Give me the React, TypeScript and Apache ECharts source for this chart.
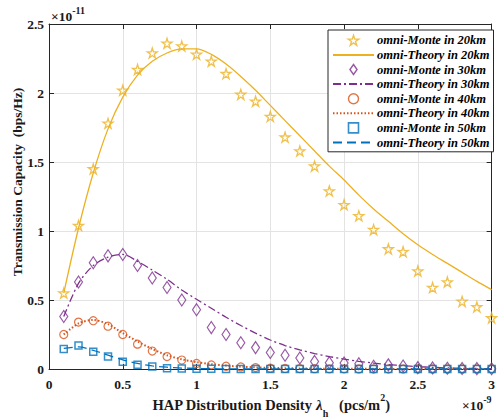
import React, { useEffect, useRef } from 'react';
import * as echarts from 'echarts';

// x positions (×10^-9 pcs/m^2)
const xs = [0.1, 0.2, 0.3, 0.4, 0.5, 0.6, 0.7, 0.8, 0.9, 1.0, 1.1, 1.2, 1.3, 1.4, 1.5, 1.6, 1.7, 1.8, 1.9, 2.0, 2.1, 2.2, 2.3, 2.4, 2.5, 2.6, 2.7, 2.8, 2.9, 3.0];

// values in units of 1e-11 bps/Hz
const monte20 = [0.55, 1.04, 1.45, 1.78, 2.02, 2.17, 2.29, 2.36, 2.34, 2.28, 2.23, 2.14, 1.99, 1.94, 1.83, 1.68, 1.58, 1.47, 1.29, 1.19, 1.11, 1.01, 0.87, 0.85, 0.71, 0.59, 0.63, 0.49, 0.45, 0.37];
const theory20 = [0.55, 1.02, 1.42, 1.74, 1.97, 2.13, 2.23, 2.29, 2.32, 2.32, 2.28, 2.21, 2.12, 2.02, 1.91, 1.8, 1.69, 1.58, 1.47, 1.37, 1.26, 1.16, 1.07, 0.98, 0.9, 0.83, 0.765, 0.7, 0.635, 0.575];
const monte30 = [0.38, 0.63, 0.77, 0.82, 0.83, 0.75, 0.66, 0.59, 0.5, 0.43, 0.3, 0.25, 0.19, 0.155, 0.12, 0.1, 0.08, 0.055, 0.046, 0.043, 0.038, 0.02, 0.03, 0.022, 0.01, 0.008, 0.006, 0.004, 0.003, 0.002];
const theory30 = [0.38, 0.62, 0.75, 0.81, 0.83, 0.78, 0.717, 0.65, 0.572, 0.505, 0.44, 0.375, 0.315, 0.26, 0.21, 0.17, 0.138, 0.112, 0.09, 0.072, 0.056, 0.043, 0.032, 0.024, 0.017, 0.012, 0.008, 0.006, 0.004, 0.003];
const monte40 = [0.25, 0.34, 0.35, 0.31, 0.25, 0.18, 0.13, 0.09, 0.065, 0.04, 0.03, 0.02, 0.015, 0.01, 0.006, 0.004, 0.003, 0.002, 0.001, 0.001, 0, 0, 0, 0, 0, 0, 0, 0, 0, 0];
const theory40 = [0.25, 0.33, 0.355, 0.325, 0.26, 0.2, 0.145, 0.1, 0.07, 0.05, 0.035, 0.025, 0.017, 0.012, 0.008, 0.006, 0.004, 0.003, 0.002, 0.0015, 0.001, 0.001, 0, 0, 0, 0, 0, 0, 0, 0];
const monte50 = [0.145, 0.17, 0.125, 0.09, 0.053, 0.03, 0.018, 0.006, 0.003, 0.002, 0.001, 0, 0, 0, 0, 0, 0, 0, 0, 0, 0, 0, 0, 0, 0, 0, 0, 0, 0, 0];
const theory50 = [0.15, 0.16, 0.135, 0.1, 0.066, 0.04, 0.023, 0.013, 0.007, 0.004, 0.002, 0.001, 0, 0, 0, 0, 0, 0, 0, 0, 0, 0, 0, 0, 0, 0, 0, 0, 0, 0];

const seriesNames = [
  'omni-Monte in 20km', 'omni-Theory in 20km',
  'omni-Monte in 30km', 'omni-Theory in 30km',
  'omni-Monte in 40km', 'omni-Theory in 40km',
  'omni-Monte in 50km', 'omni-Theory in 50km',
];

const C20 = '#EDB120';
const C30 = '#7E2F8E';
const C40 = '#D95319';
const C50 = '#0072BD';
const FONT = "'Liberation Serif', 'Times New Roman', serif";
const AX = '#262626';

const STAR = 'path://M0,-10L2.235,-3.074L9.51,-3.09L3.614,1.174L5.88,8.09L0,3.8L-5.88,8.09L-3.614,1.174L-9.51,-3.09L-2.235,-3.074Z';
const DIAMOND = 'path://M0,-7L5,0L0,7L-5,0Z';
const SQUARE = 'path://M0,0L10,0L10,10L0,10Z';

const pairs = (ys: number[]) => xs.map((x, i) => [x, ys[i]]);

export default function App() {
  const ref = useRef<HTMLDivElement>(null);
  useEffect(() => {
    if (!ref.current) return;
    const chart = echarts.init(ref.current, undefined, { renderer: 'svg' });

    const hollow = (c: string, w = 1.2) => ({ color: 'rgba(255,255,255,0)', borderColor: c, borderWidth: w });

    const baseX = {
      type: 'value', min: 0, max: 3, interval: 0.5,
      axisLine: { show: true, onZero: false, lineStyle: { color: AX, width: 1 } },
      axisTick: { show: true, inside: true, length: 5, lineStyle: { color: AX } },
    };
    const baseY = {
      type: 'value', min: 0, max: 2.5, interval: 0.5,
      axisLine: { show: true, onZero: false, lineStyle: { color: AX, width: 1 } },
      axisTick: { show: true, inside: true, length: 5, lineStyle: { color: AX } },
    };
    const labelStyle = { fontFamily: FONT, fontWeight: 'bold', fontSize: 13.5, color: '#1a1a1a' };
    const noSym = { color: 'rgba(0,0,0,0)', borderWidth: 0, opacity: 0 };

    chart.setOption({
      animation: false,
      backgroundColor: '#fff',
      grid: { left: 49, top: 24, right: 5, bottom: 48, containLabel: false },
      xAxis: [
        { ...baseX, position: 'bottom', axisLabel: { ...labelStyle, margin: 8, formatter: (v: number) => String(v) }, splitLine: { show: true, lineStyle: { color: '#e3e3e3', width: 1 } } },
        { ...baseX, position: 'top', axisLabel: { show: false }, splitLine: { show: false } },
      ],
      yAxis: [
        { ...baseY, position: 'left', axisLabel: { ...labelStyle, margin: 5, formatter: (v: number) => String(v) }, splitLine: { show: true, lineStyle: { color: '#e3e3e3', width: 1 } } },
        { ...baseY, position: 'right', axisLabel: { show: false }, splitLine: { show: false } },
      ],
      legend: {
        orient: 'vertical', left: 328, top: 30,
        padding: [3, 4, 2, 4], itemGap: 0, itemWidth: 41, itemHeight: 10,
        symbolKeepAspect: true,
        backgroundColor: '#fff', borderColor: AX, borderWidth: 1, borderRadius: 0,
        textStyle: { fontFamily: FONT, fontStyle: 'italic', fontWeight: 'bold', fontSize: 12.5, color: '#000', lineHeight: 14.6, padding: [0, 0, 0, -2] },
        data: [
          { name: seriesNames[0], icon: STAR, itemStyle: hollow(C20, 1.4) },
          { name: seriesNames[1], itemStyle: noSym },
          { name: seriesNames[2], icon: DIAMOND, itemStyle: hollow(C30, 1.4) },
          { name: seriesNames[3], itemStyle: noSym },
          { name: seriesNames[4], icon: 'path://M10,0A10,10,0,1,1,-10,0A10,10,0,1,1,10,0Z', itemStyle: hollow(C40, 1.4) },
          { name: seriesNames[5], itemStyle: noSym },
          { name: seriesNames[6], icon: SQUARE, itemStyle: hollow(C50, 1.6) },
          { name: seriesNames[7], itemStyle: noSym },
        ],
      },
      graphic: [
        {
          type: 'text', x: 51, y: 16,
          style: {
            text: '{a|×10}{s|-11}', textAlign: 'left', textVerticalAlign: 'middle',
            rich: {
              a: { fontFamily: FONT, fontWeight: 'bold', fontSize: 13.5, fill: '#1a1a1a', lineHeight: 22, verticalAlign: 'middle' },
              s: { fontFamily: FONT, fontWeight: 'bold', fontSize: 10, fill: '#1a1a1a', lineHeight: 22, verticalAlign: 'top' },
            },
          },
        },
        {
          type: 'text', x: 462, y: 405,
          style: {
            text: '{a|×10}{s|-9}', textAlign: 'left', textVerticalAlign: 'middle',
            rich: {
              a: { fontFamily: FONT, fontWeight: 'bold', fontSize: 13.5, fill: '#1a1a1a', lineHeight: 22, verticalAlign: 'middle' },
              s: { fontFamily: FONT, fontWeight: 'bold', fontSize: 10, fill: '#1a1a1a', lineHeight: 22, verticalAlign: 'top' },
            },
          },
        },
        {
          type: 'text', x: 271, y: 405,
          style: {
            text: '{a|HAP Distribution Density }{l|λ}{b|h}{a|   (pcs/m}{p|2}{a|)}',
            textAlign: 'center', textVerticalAlign: 'middle',
            rich: {
              a: { fontFamily: FONT, fontWeight: 'bold', fontSize: 14.5, fill: '#1a1a1a', lineHeight: 26, verticalAlign: 'middle' },
              l: { fontFamily: FONT, fontWeight: 'bold', fontStyle: 'italic', fontSize: 15, fill: '#1a1a1a', lineHeight: 26, verticalAlign: 'middle' },
              b: { fontFamily: FONT, fontWeight: 'bold', fontSize: 10, fill: '#1a1a1a', lineHeight: 26, verticalAlign: 'bottom' },
              p: { fontFamily: FONT, fontWeight: 'bold', fontSize: 10, fill: '#1a1a1a', lineHeight: 26, verticalAlign: 'top' },
            },
          },
        },
        {
          type: 'text', x: 17, y: 182, rotation: Math.PI / 2,
          style: {
            text: 'Transmission Capacity  (bps/Hz)', textAlign: 'center', textVerticalAlign: 'middle',
            fontFamily: FONT, fontWeight: 'bold', fontSize: 13.5, fill: '#1a1a1a',
          },
        },
      ],
      series: [
        { type: 'scatter', name: seriesNames[0], data: pairs(monte20), symbol: STAR, symbolSize: 10, itemStyle: hollow(C20, 1.3), z: 2 },
        { type: 'line', name: seriesNames[1], data: pairs(theory20), smooth: 0.3, symbol: 'none', lineStyle: { color: C20, width: 1.3 }, itemStyle: { color: C20 }, z: 3 },
        { type: 'scatter', name: seriesNames[2], data: pairs(monte30), symbol: DIAMOND, symbolSize: [8, 12], itemStyle: hollow(C30), z: 4 },
        { type: 'line', name: seriesNames[3], data: pairs(theory30), smooth: 0.3, symbol: 'none', lineStyle: { color: C30, width: 1.3, type: [8, 3, 2, 3] }, itemStyle: { color: C30 }, z: 5 },
        { type: 'scatter', name: seriesNames[4], data: pairs(monte40), symbol: 'circle', symbolSize: 8, itemStyle: hollow(C40), z: 6 },
        { type: 'line', name: seriesNames[5], data: pairs(theory40), smooth: 0.3, symbol: 'none', lineStyle: { color: C40, width: 2, type: [1.5, 2] }, itemStyle: { color: C40 }, z: 7 },
        { type: 'scatter', name: seriesNames[6], data: pairs(monte50), symbol: 'rect', symbolSize: 7, itemStyle: hollow(C50, 1.5), z: 8 },
        { type: 'line', name: seriesNames[7], data: pairs(theory50), smooth: 0.3, symbol: 'none', lineStyle: { color: C50, width: 1.3, type: [9, 5] }, itemStyle: { color: C50 }, z: 9 },
      ],
    });
    return () => chart.dispose();
  }, []);
  return <div ref={ref} style={{ position: 'fixed', left: 0, top: 0, width: 498, height: 417 }} />;
}
